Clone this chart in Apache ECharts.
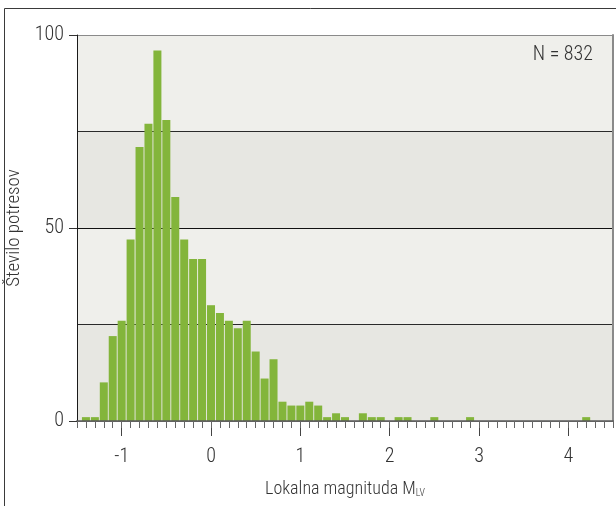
<!DOCTYPE html>
<html>
<head>
<meta charset="utf-8">
<script src="https://cdn.jsdelivr.net/npm/echarts@6/dist/echarts.min.js"></script>
<style>
html,body{margin:0;padding:0;background:#fff;}
#c{width:616px;height:506px;}
</style>
</head>
<body>
<div id="c"></div>
<script>
// Bin centres (local magnitude, step 0.1)
const binCenters = [
 -1.4,-1.3,-1.2,-1.1,-1.0,-0.9,-0.8,-0.7,-0.6,-0.5,-0.4,-0.3,-0.2,-0.1,
  0.0, 0.1, 0.2, 0.3, 0.4, 0.5, 0.6, 0.7, 0.8, 0.9,
  1.0, 1.1, 1.2, 1.3, 1.4, 1.5, 1.6, 1.7, 1.8, 1.9,
  2.0, 2.1, 2.2, 2.3, 2.4, 2.5, 2.6, 2.7, 2.8, 2.9,
  3.0, 3.1, 3.2, 3.3, 3.4, 3.5, 3.6, 3.7, 3.8, 3.9,
  4.0, 4.1, 4.2
];
// Number of earthquakes per bin
const counts = [
  1, 1,10,22,26,47,71,77,96,78,58,47,42,42,
 30,28,26,24,26,18,11,16, 5, 4,
  4, 5, 4, 1, 2, 1, 0, 2, 1, 1,
  0, 1, 1, 0, 0, 1, 0, 0, 0, 1,
  0, 0, 0, 0, 0, 0, 0, 0, 0, 0,
  0, 0, 1
];
const xMajorTicks = [-1, 0, 1, 2, 3, 4];
const yTickLabels = [0, 50, 100];
const xMin = -1.5, xMax = 4.5;
const totalLabel = 'N = 832';

const xMinorTicks = [];
for (let i = Math.round(xMin * 10); i <= Math.round(xMax * 10); i++) xMinorTicks.push(i / 10);

const FONT = "'Liberation Sans Narrow', 'Roboto Condensed', Roboto, 'Liberation Sans', sans-serif";
const TXT = '#333';
const FS = 18;
const FL = 20;
const chart = echarts.init(document.getElementById('c'), null, {renderer: 'canvas'});
chart.setOption({
  animation: false,
  textStyle: {fontFamily: FONT},
  grid: {left: 77, right: 3, top: 35, bottom: 85, containLabel: false, outerBoundsMode: 'none'},
  title: {
    text: totalLabel, right: 23, top: 45, padding: 0,
    textStyle: {fontFamily: FONT, fontSize: FL, fontWeight: 300, color: TXT}
  },
  graphic: [{
    type: 'rect', silent: true, z: 100,
    shape: {x: 4.5, y: 8.5, width: 800, height: 800},
    style: {fill: 'none', stroke: '#3a3a3a', lineWidth: 1}
  }],
  xAxis: [{
    type: 'value', min: xMin, max: xMax, z: 5,
    axisLine: {show: true, onZero: false, lineStyle: {color: 'rgba(90,90,90,0.75)', width: 2}},
    axisTick: {show: true, customValues: xMajorTicks, length: 15, lineStyle: {color: '#444', width: 1}},
    axisLabel: {customValues: xMajorTicks, margin: 26, fontSize: FL, fontWeight: 300, color: TXT, fontFamily: FONT},
    splitLine: {show: false},
    name: '{m|Lokalna magnituda M}{s|LV}',
    nameLocation: 'middle', nameGap: 55,
    nameTextStyle: {
      rich: {
        m: {fontSize: FS, fontWeight: 300, color: TXT, fontFamily: FONT, lineHeight: 22, verticalAlign: 'bottom'},
        s: {fontSize: 10, fontWeight: 300, color: TXT, fontFamily: FONT, lineHeight: 22, verticalAlign: 'bottom'}
      }
    }
  }, {
    type: 'value', min: xMin, max: xMax, position: 'bottom', z: 5,
    axisLine: {show: false, onZero: false},
    axisTick: {show: true, customValues: xMinorTicks, length: 7, lineStyle: {color: '#666', width: 1}},
    axisLabel: {show: false},
    splitLine: {show: false}
  }],
  yAxis: [{
    type: 'value', min: 0, max: 100, z: 5,
    axisLine: {show: true, onZero: false, lineStyle: {color: '#1a1a1a', width: 1}},
    axisTick: {show: true, customValues: yTickLabels, length: 8, lineStyle: {color: '#333'}},
    axisLabel: {customValues: yTickLabels, margin: 13, fontSize: FL, fontWeight: 300, color: TXT, fontFamily: FONT},
    splitLine: {show: false},
    name: 'Število potresov', nameLocation: 'middle', nameGap: 44,
    nameTextStyle: {fontSize: 19, fontWeight: 300, color: TXT, fontFamily: FONT}
  }, {
    type: 'value', min: 0, max: 100, interval: 25, position: 'right',
    axisLine: {show: true, onZero: false, lineStyle: {color: '#8a8a8a', width: 2}},
    axisTick: {show: false}, axisLabel: {show: false},
    splitLine: {show: true, lineStyle: {color: ['#777', '#2a2a2a', '#111', '#2a2a2a', '#8a8a8a'], width: 1}},
    splitArea: {show: true, areaStyle: {color: ['#e7e7e2', '#efefeb']}}
  }],
  series: [{
    type: 'bar',
    xAxisIndex: 0, yAxisIndex: 0,
    barWidth: 8,
    itemStyle: {color: '#83b53b'},
    data: binCenters.map((x, i) => [x, counts[i]])
  }]
});
</script>
</body>
</html>
